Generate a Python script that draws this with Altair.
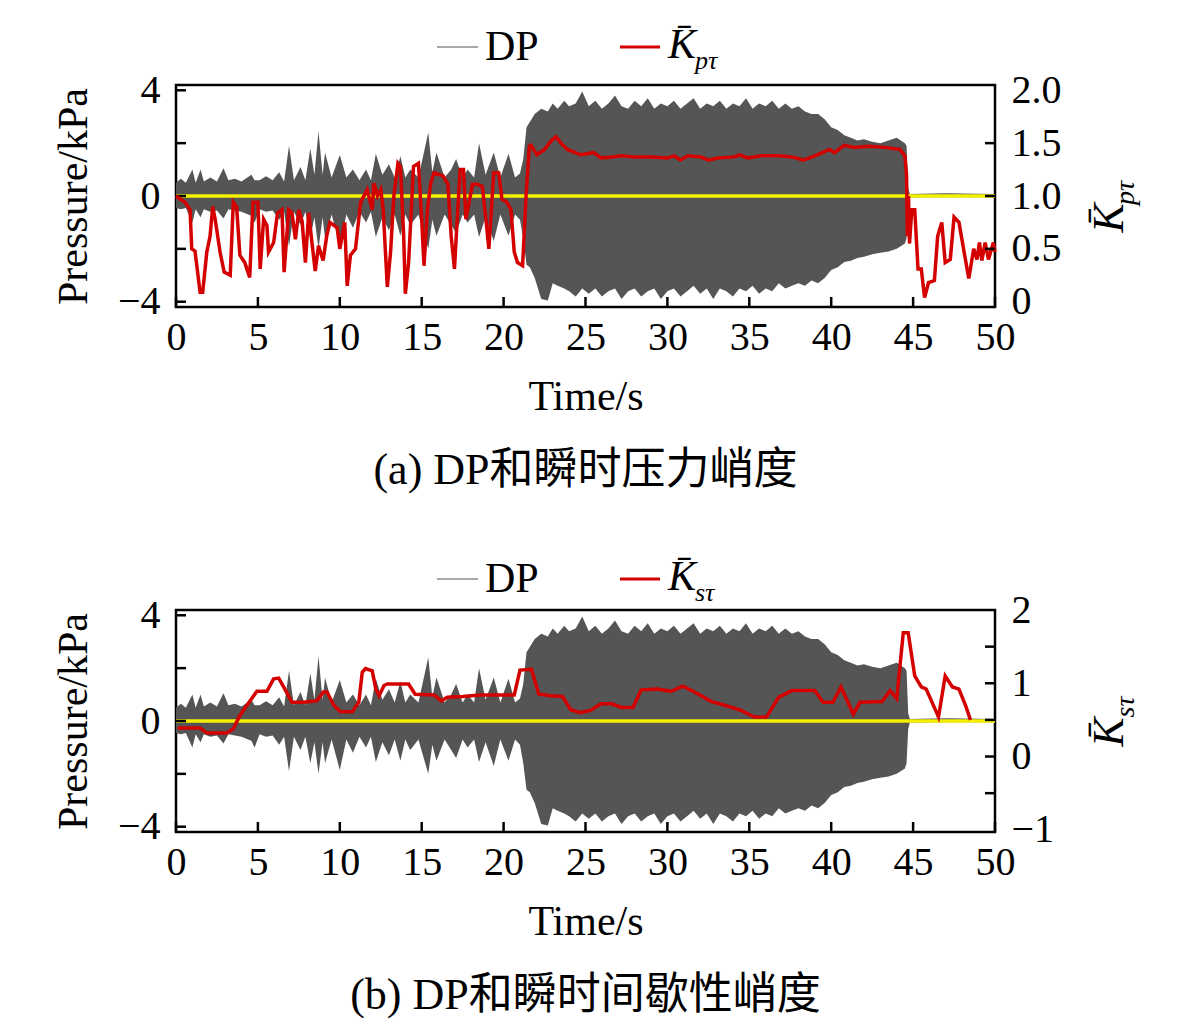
import altair as alt
import pandas as pd

FONT = "Liberation Serif, Times New Roman, Noto Sans CJK SC"
W, H = 819, 222
RED = "#d40000"
YELLOW = "#f4f000"
GREY = "#555555"

# DP signal, read as upper / lower envelope of the dense trace (kPa)
DP_T = [0.0, 0.3, 0.6, 1.0, 1.2, 1.5, 1.7, 2.1, 2.5, 2.9, 3.2, 3.6, 4.0, 4.6, 4.8,
        5.1, 5.5, 5.9, 6.3, 6.6, 6.9, 7.2, 7.6, 7.9, 8.2, 8.45, 8.7, 8.95, 9.1, 9.5,
        10.0, 10.4, 10.8, 11.2, 11.6, 11.9, 12.2, 12.6, 13.0, 13.35, 13.7, 14.0, 14.3,
        14.8, 15.4, 15.65, 15.9, 16.4, 16.8, 17.1, 17.5, 17.8, 18.2, 18.5, 18.9, 19.4,
        19.8, 20.3, 20.7, 21.0, 21.2, 21.4, 21.6, 21.9, 22.3, 22.7, 23.0, 23.3, 23.7,
        24.0, 24.4, 24.8, 25.2, 25.6, 26.0, 26.4, 26.8, 27.2, 27.6, 28.0, 28.4, 28.8,
        29.2, 29.6, 30.0, 30.4, 30.8, 31.2, 31.6, 32.0, 32.4, 32.8, 33.2, 33.6, 34.0,
        34.4, 34.8, 35.2, 35.6, 36.0, 36.4, 36.8, 37.2, 37.6, 38.0, 38.4, 38.8, 39.2,
        39.6, 40.0, 40.4, 40.8, 41.2, 41.6, 42.0, 42.5, 43.0, 43.5, 44.0, 44.5, 44.6,
        44.7, 44.8, 47.0, 50.0]
DP_UP = [0.5, 0.65, 0.5, 1.0, 0.5, 1.0, 0.55, 0.7, 0.55, 1.05, 0.6, 0.65, 0.55, 0.8, 0.6,
         0.6, 0.75, 0.6, 0.9, 0.55, 1.9, 0.6, 1.1, 0.6, 1.8, 0.8, 2.45, 0.8, 1.65, 0.7,
         1.55, 0.7, 1.0, 0.6, 1.0, 0.6, 1.6, 0.8, 1.2, 0.7, 1.5, 0.7, 1.0,
         0.7, 2.4, 0.9, 1.65, 0.7, 1.0, 1.4, 0.7, 1.0, 0.7, 2.0, 0.8, 1.65,
         0.7, 1.6, 0.7, 0.85, 1.4, 2.6, 2.8, 3.1, 3.3, 3.2, 3.5, 3.3, 3.6,
         3.4, 3.5, 3.95, 3.4, 3.6, 3.3, 3.5, 3.8, 3.4, 3.3, 3.6, 3.4, 3.7,
         3.3, 3.5, 3.4, 3.6, 3.3, 3.5, 3.7, 3.3, 3.5, 3.4, 3.6, 3.3, 3.5,
         3.4, 3.7, 3.3, 3.5, 3.4, 3.6, 3.3, 3.5, 3.3, 3.4, 3.2, 3.1, 3.1,
         2.9, 2.6, 2.5, 2.3, 2.2, 2.1, 2.15, 2.05, 2.0, 2.1, 2.2, 2.0, 1.9,
         0.3, 0.08, 0.1, 0.08]
DP_LO = [-0.45, -0.5, -0.45, -1.0, -0.5, -0.8, -0.5, -0.6, -0.55, -0.85, -0.5, -0.55, -0.6, -0.75, -1.0,
         -0.5, -0.6, -0.55, -0.9, -0.6, -1.9, -0.6, -1.1, -0.6, -1.6, -0.8, -2.0, -0.8, -1.6, -0.7,
         -1.85, -0.7, -1.2, -0.6, -1.0, -0.6, -1.55, -0.8, -1.3, -0.7, -1.5, -0.7, -1.1,
         -0.7, -2.0, -0.9, -1.5, -0.7, -1.1, -1.4, -0.7, -1.0, -0.7, -1.55, -0.8, -1.7,
         -0.7, -1.5, -0.7, -0.9, -1.6, -2.6, -2.7, -3.1, -3.9, -3.95, -3.3, -3.4, -3.5,
         -3.6, -3.8, -3.5, -3.7, -3.5, -3.8, -3.6, -3.5, -3.9, -3.6, -3.5, -3.8, -3.6,
         -3.5, -3.9, -3.6, -3.5, -3.8, -3.6, -3.4, -3.7, -3.5, -3.9, -3.5, -3.6, -3.8,
         -3.5, -3.6, -3.4, -3.7, -3.5, -3.6, -3.3, -3.5, -3.4, -3.3, -3.4, -3.2, -3.3,
         -3.1, -2.8, -2.7, -2.5, -2.45, -2.35, -2.3, -2.2, -2.15, -2.1, -2.0, -1.8, -1.6,
         -0.3, -0.06, -0.05, -0.05]

# instantaneous pressure kurtosis (panel a)
KP_T = [0.0, 0.55, 0.86, 0.96, 1.16, 1.47, 1.63, 1.88, 2.08, 2.24, 2.39, 2.69, 2.94, 3.31,
        3.5, 3.7, 3.9, 4.2, 4.5, 4.7, 5.0, 5.14, 5.35, 5.55, 5.65, 5.96, 6.2, 6.47, 6.6,
        6.88, 7.08, 7.29, 7.5, 7.7, 7.9, 8.1, 8.3, 8.5, 8.7, 8.98, 9.2, 9.4, 9.84, 10.0,
        10.3, 10.45, 10.65, 10.96, 11.27, 11.67, 11.98, 12.08, 12.3, 12.5, 12.65, 12.9,
        13.1, 13.3, 13.55, 13.7, 13.9, 14.0, 14.2, 14.5, 14.8, 15.0, 15.14, 15.35, 15.55,
        15.75, 16.3, 16.6, 16.8, 17.0, 17.2, 17.35, 17.55, 17.7, 18.1, 18.4, 18.7, 18.9,
        19.1, 19.4, 19.7, 19.9, 20.2, 20.45, 20.65, 20.85, 21.16, 21.37, 21.57, 21.67,
        22.03, 22.5, 22.9, 23.2, 23.5, 23.9, 24.7, 25.5, 25.95, 26.6, 27.2, 28.0, 29.0,
        30.0, 30.4, 30.8, 31.25, 32.05, 32.5, 33.1, 34.1, 34.4, 34.9, 35.7, 36.8, 37.6,
        38.3, 39.0, 39.9, 40.2, 40.8, 41.4, 42.3, 43.3, 44.2, 44.5, 44.6, 44.65, 44.72,
        44.78, 44.92, 45.1, 45.3, 45.5, 45.7, 45.94, 46.3, 46.5, 46.75, 46.96, 47.27, 47.5,
        47.8, 48.08, 48.4, 48.7, 48.9, 49.05, 49.2, 49.4, 49.6, 49.9, 50.0]
KP = [1.0, 0.94, 0.87, 0.5, 0.48, 0.09, 0.09, 0.47, 0.62, 0.9, 0.78, 0.47, 0.28, 0.25,
      0.94, 0.9, 0.44, 0.37, 0.23, 0.94, 0.94, 0.31, 0.78, 0.72, 0.47, 0.56, 0.84, 0.87, 0.28,
      0.87, 0.84, 0.59, 0.87, 0.76, 0.37, 0.84, 0.56, 0.29, 0.53, 0.39, 0.62, 0.75, 0.7, 0.5,
      0.75, 0.15, 0.44, 0.5, 0.94, 1.06, 0.87, 1.12, 1.0, 1.06, 0.87, 0.14,
      0.47, 1.0, 1.31, 1.28, 0.62, 0.075, 0.37, 1.28, 1.31, 0.78, 0.34, 0.87, 1.12,
      1.22, 1.19, 1.11, 0.62, 0.31, 0.87, 1.25, 1.25, 0.78, 1.11, 1.11, 1.09, 0.81,
      0.5, 1.22, 1.22, 0.97, 0.94, 0.87, 0.47, 0.37, 0.34, 1.0, 1.47, 1.48,
      1.39, 1.44, 1.52, 1.56, 1.5, 1.44, 1.39, 1.41, 1.36, 1.37, 1.38, 1.37, 1.37,
      1.36, 1.38, 1.34, 1.38, 1.37, 1.34, 1.36, 1.37, 1.39, 1.36, 1.38, 1.38, 1.37,
      1.34, 1.38, 1.44, 1.41, 1.48, 1.46, 1.47, 1.46, 1.44, 1.38, 1.2, 0.62, 1.0,
      0.55, 0.87, 0.87, 0.31, 0.31, 0.04, 0.18, 0.2, 0.62, 0.75, 0.37, 0.4, 0.8,
      0.75, 0.5, 0.22, 0.5, 0.4, 0.56, 0.39, 0.56, 0.4, 0.56, 0.47]

# instantaneous intermittency kurtosis (panel b)
KS_T = [0.1, 1.47, 1.88, 3.1, 3.5, 3.9, 4.33, 4.94, 5.55, 5.96, 6.27, 6.57, 7.08, 7.8,
        8.6, 9.0, 9.22, 9.63, 10.04, 10.76, 11.16, 11.37, 11.57, 11.98, 12.2, 12.4, 12.7,
        12.9, 14.2, 14.6, 15.75, 16.2, 16.57, 17.5, 18.6, 20.65, 21.0, 21.7, 22.15, 22.9,
        23.6, 24.1, 24.7, 25.3, 25.95, 26.6, 27.2, 27.9, 28.4, 29.4, 30.2, 30.95, 31.65,
        32.7, 33.5, 34.5, 35.3, 36.05, 36.8, 37.6, 39.0, 39.5, 40.1, 40.6, 41.35, 41.76,
        43.1, 43.6, 44.0, 44.4, 44.7, 45.1, 45.5, 45.8, 46.55, 46.96, 47.4, 47.8, 48.2, 48.5]
KS = [0.39, 0.39, 0.32, 0.32, 0.38, 0.56, 0.7, 0.89, 0.89, 1.06, 1.07, 0.95, 0.74, 0.74,
      0.76, 0.88, 0.88, 0.7, 0.61, 0.61, 0.74, 1.15, 1.2, 1.17, 0.92, 0.83, 0.97,
      0.99, 0.99, 0.85, 0.84, 0.76, 0.81, 0.82, 0.84, 0.84, 1.18, 1.19, 0.85, 0.83,
      0.82, 0.64, 0.6, 0.63, 0.72, 0.72, 0.67, 0.67, 0.91, 0.92, 0.89, 0.96, 0.88,
      0.75, 0.7, 0.63, 0.54, 0.54, 0.81, 0.9, 0.9, 0.74, 0.74, 0.95, 0.58, 0.74,
      0.75, 0.9, 0.79, 1.69, 1.69, 1.1, 0.95, 0.92, 0.54, 1.1, 0.95, 0.92, 0.7, 0.5]

X_TICKS = [0, 5, 10, 15, 20, 25, 30, 35, 40, 45, 50]
P_TICKS = [-4, -2, 0, 2, 4]
P_DOMAIN = [-4.2, 4.2]


def text(label, x, y, size, italic=False, angle=0, align="left"):
    return alt.Chart(pd.DataFrame({"s": [label]})).mark_text(
        align=align, baseline="middle", fontSize=size, font=FONT, color="black",
        fontStyle="italic" if italic else "normal", angle=angle
    ).encode(text="s:N", x=alt.value(x), y=alt.value(y))


def rule_at(x, x2, y, color, width):
    return alt.Chart(pd.DataFrame({"a": [0]})).mark_rule(color=color, strokeWidth=width).encode(
        x=alt.value(x), x2=alt.value(x2), y=alt.value(y))


def panel(k_t, k_v, k_domain, k_labels, k_ticks, label_expr, sub, caption, ly, ky):
    x_axis = alt.Axis(values=X_TICKS, ticks=False, domain=False, grid=False, title="Time/s",
                      labelFontSize=40, titleFontSize=42, labelPadding=10, titlePadding=19,
                      labelFlush=False, titleFontWeight="normal", labelColor="black",
                      titleColor="black")
    x_scale = alt.Scale(domain=[0, 50], nice=False)
    p_axis = alt.Axis(values=P_TICKS, labelExpr="abs(datum.value) == 2 ? '' : datum.label",
                      ticks=False, domain=False, grid=False, title="Pressure/kPa",
                      labelFontSize=40, titleFontSize=42, labelPadding=16, titlePadding=22,
                      labelFlush=False, titleFontWeight="normal", labelColor="black",
                      titleColor="black")
    p_scale = alt.Scale(domain=P_DOMAIN, nice=False, zero=False)
    k_axis = alt.Axis(orient="right", values=k_labels, labelExpr=label_expr, ticks=False,
                      domain=False, grid=False, title="", labelFontSize=40, labelPadding=16,
                      labelFlush=False, labelColor="black")
    k_scale = alt.Scale(domain=k_domain, nice=False, zero=False)

    dp = pd.DataFrame({"t": DP_T, "up": DP_UP, "lo": DP_LO})
    area = alt.Chart(dp).mark_area(color=GREY, opacity=1).encode(
        x=alt.X("t:Q", scale=x_scale, axis=x_axis),
        y=alt.Y("up:Q", scale=p_scale, axis=p_axis),
        y2="lo:Q",
    )
    zero = alt.Chart(pd.DataFrame({"t0": [0], "t1": [50], "p": [0]})).mark_rule(
        color=YELLOW, strokeWidth=3.5).encode(
        x=alt.X("t0:Q", scale=x_scale, axis=x_axis), x2="t1:Q",
        y=alt.Y("p:Q", scale=p_scale, axis=p_axis))
    xt = alt.Chart(pd.DataFrame({"t": X_TICKS})).mark_rule(color="black", strokeWidth=2.5).encode(
        x=alt.X("t:Q", scale=x_scale, axis=x_axis), y=alt.value(H), y2=alt.value(H - 10))
    pt = alt.Chart(pd.DataFrame({"p": P_TICKS})).mark_rule(color="black", strokeWidth=2.5).encode(
        y=alt.Y("p:Q", scale=p_scale, axis=p_axis), x=alt.value(0), x2=alt.value(10))
    left = alt.layer(area, zero, xt, pt)

    kdf = pd.DataFrame({"t": k_t, "k": k_v})
    kline = alt.Chart(kdf).mark_line(color=RED, strokeWidth=3.5).encode(
        x=alt.X("t:Q", scale=x_scale, axis=x_axis),
        y=alt.Y("k:Q", scale=k_scale, axis=k_axis),
    )
    kt = alt.Chart(pd.DataFrame({"k": k_ticks})).mark_rule(color="black", strokeWidth=2.5).encode(
        y=alt.Y("k:Q", scale=k_scale, axis=k_axis), x=alt.value(W - 10), x2=alt.value(W))
    right = alt.layer(kline, kt)

    deco = [
        rule_at(261, 302, ly, GREY, 1.2),
        text("DP", 309, ly, 42),
        rule_at(444, 484, ly, RED, 3),
        text("K\u0304", 492, ly - 2, 42, italic=True),
        text(sub, 519, ly + 14, 26, italic=True),
        text("K\u0304", W + 115, ky, 44, italic=True, angle=270, align="center"),
        text(sub, W + 131, ky - 25, 28, italic=True, angle=270, align="center"),
        text(caption, W / 2, 386, 44, align="center"),
    ]
    return alt.layer(left, right, *deco).resolve_scale(y="independent").properties(width=W, height=H)


top = panel(KP_T, KP, [-0.05, 2.05], [0, 0.5, 1, 1.5, 2], [0.5, 1, 1.5],
            "datum.value == 0 ? '0' : format(datum.value, '.1f')", "p\u03c4",
            "(a) DP和瞬时压力峭度", -38, 133)
bottom = panel(KS_T, KS, [-1.03, 2.0], [-1, 0, 1, 2], [-0.5, 0, 0.5, 1, 1.5],
               "datum.label", "s\u03c4", "(b) DP和瞬时间歇性峭度", -31, 122)

chart = alt.vconcat(top, bottom, spacing=59, padding={"left": 43, "top": 14, "right": 5, "bottom": 0}).configure(
    font=FONT
).configure_view(stroke="black", strokeWidth=2.5)

chart.save("out.html", embed_options={"renderer": "svg", "actions": False})
